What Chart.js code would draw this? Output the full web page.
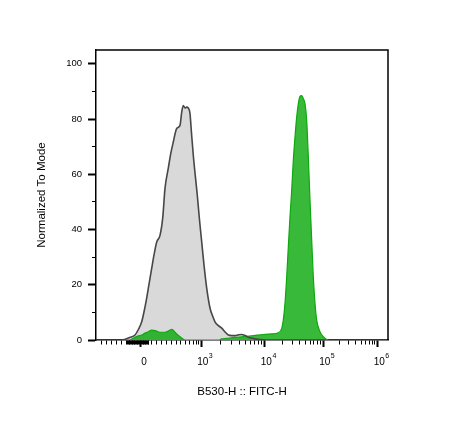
<!DOCTYPE html>
<html>
<head>
<meta charset="utf-8">
<title>B530-H :: FITC-H</title>
<script src="https://cdn.jsdelivr.net/npm/chart.js@4/dist/chart.umd.min.js"></script>
<style>
  body { margin: 0; background: #fff; }
  canvas { display: block; }
</style>
</head>
<body>
<canvas id="histChart" width="452" height="438"></canvas>
<script>
'use strict';

// Data (x in display channels 0-1000, y normalized to mode)
let grayX = [89, 100, 115, 133.6, 145, 156.5, 165, 173.6, 182, 190.8, 199, 207.9, 219.2, 228.4, 236.3, 247.6, 256, 264.7, 276.4, 287.7, 293.5, 299, 304.8, 310, 316.1, 321.9, 327, 333.2, 340, 346.9, 354, 362, 370, 379.1, 390.4, 400, 407.5, 418, 430.5, 442, 453.1, 465, 476, 488, 499, 512, 527.4, 545, 561.6, 578.8];
let grayY = [0, 0.3, 0.9, 1.8, 3.8, 6.6, 10.5, 15.2, 20.5, 26, 31, 35.5, 37.9, 44.1, 54.9, 62.2, 67.5, 71.7, 76.6, 77.7, 82.5, 84.9, 84, 84.3, 84, 82, 75, 66.9, 59.5, 52.4, 44, 35.5, 27, 18.8, 11.6, 8.5, 6.6, 5.3, 4.3, 2.9, 1.8, 1.6, 1.6, 1.9, 2, 1.5, 0.8, 0.4, 0.2, 0];

let greenX = [0, 116, 130, 145, 156.5, 168, 179.1, 190.8, 205, 219.2, 230, 242.1, 252, 259.2, 265, 270.5, 280, 287.7, 296, 304.8, 322, 420, 430, 447.6, 470, 504.5, 540, 573, 600, 624.3, 636, 641.4, 647.3, 653.1, 658.6, 664.4, 670.2, 675.7, 681.5, 687.3, 692.8, 698.6, 704.5, 709.9, 715.8, 721.6, 727.1, 732.9, 738.7, 744.2, 750, 755.8, 767.1, 778.4, 790, 800, 1000];
let greenY = [0, 0, 0.8, 1.5, 1.8, 2.5, 3, 3.6, 3.3, 2.8, 2.8, 3, 3.5, 3.9, 3.5, 2.8, 1.8, 1.2, 0.5, 0, 0, 0, 0.4, 0.6, 0.9, 1.2, 1.6, 2, 2.2, 2.6, 4.2, 7.2, 13.4, 22.9, 33.7, 44.6, 54.2, 65, 73.5, 80.7, 85.5, 88.2, 88.5, 87.4, 85.5, 79.5, 66.3, 50.6, 36.1, 22.9, 13.3, 7.2, 3, 1.2, 0.2, 0, 0];

// Tick labels
let xMajorTicks = [150.7, 359.6, 577.1, 777.4, 964];
let xLabelBase = ['0', '10', '10', '10', '10'];
let xLabelExp = ['', '3', '4', '5', '6'];
let xLinearMinor = [19.5, 36.6, 53.8, 70.9, 88, 190.8, 207.9, 225, 242.1, 259.2, 274, 287.7, 304.8, 321.9, 333.9, 344.2, 351];
let yMajorTicks = [0, 20, 40, 60, 80, 100];
let yMinorTicks = [10, 30, 50, 70, 90];

let fontFamily = '"Liberation Sans", Arial, sans-serif';

function toPoints(xs, ys) {
  return xs.map((x, i) => ({ x: x, y: ys[i] }));
}

// minor ticks: linear region, dense cluster round zero, log decades
function buildXTicks() {
  let list = xMajorTicks.map(v => ({ value: v, big: true }));
  xLinearMinor.forEach(v => list.push({ value: v }));
  for (let v = 106; v <= 182; v += 2.5) {
    if (Math.abs(v - xMajorTicks[0]) > 1.5) list.push({ value: v });
  }
  for (let i = 1; i < xMajorTicks.length - 1; i++) {
    let span = xMajorTicks[i + 1] - xMajorTicks[i];
    for (let k = 2; k <= 9; k++) {
      list.push({ value: xMajorTicks[i] + Math.log10(k) * span });
    }
  }
  return list.sort((a, b) => a.value - b.value);
}

function buildYTicks() {
  let list = yMajorTicks.map(v => ({ value: v, big: true }));
  yMinorTicks.forEach(v => list.push({ value: v }));
  return list.sort((a, b) => a.value - b.value);
}

function isBig(ctx) {
  return ctx.tick && ctx.tick.big;
}

// top and right side of the frame
let frameBox = {
  id: 'frameBox',
  afterDraw(chart) {
    let a = chart.chartArea;
    let c = chart.ctx;
    c.save();
    c.strokeStyle = '#000';
    c.lineWidth = 1.5;
    c.beginPath();
    c.moveTo(a.left, a.top);
    c.lineTo(a.right, a.top);
    c.lineTo(a.right, a.bottom);
    c.stroke();
    c.restore();
  }
};

// decade labels with raised exponents, placed by the x scale
let powerLabels = {
  id: 'powerLabels',
  afterDraw(chart) {
    let scale = chart.scales.x;
    let c = chart.ctx;
    let y = scale.top + 22;
    c.save();
    c.fillStyle = '#000';
    c.textBaseline = 'middle';
    c.textAlign = 'left';
    xMajorTicks.forEach((v, i) => {
      let px = scale.getPixelForValue(v) + 4;
      c.font = '10px ' + fontFamily;
      let w1 = c.measureText(xLabelBase[i]).width;
      c.font = '7px ' + fontFamily;
      let w2 = xLabelExp[i] ? c.measureText(xLabelExp[i]).width + 0.5 : 0;
      let start = px - (w1 + w2) / 2;
      c.font = '10px ' + fontFamily;
      c.fillText(xLabelBase[i], start, y);
      if (xLabelExp[i]) {
        c.font = '7px ' + fontFamily;
        c.fillText(xLabelExp[i], start + w1 + 0.5, y - 6);
      }
    });
    c.restore();
  }
};

let ctx = document.getElementById('histChart');
// eslint-disable-next-line no-undef
let histChart = new Chart(ctx, {
  type: 'line',
  data: {
    datasets: [{
      label: 'unstained outline',
      data: toPoints(grayX, grayY),
      borderColor: '#474747',
      borderWidth: 1.6,
      fill: false,
      pointRadius: 0,
      cubicInterpolationMode: 'monotone'
    }, {
      label: 'FITC',
      data: toPoints(greenX, greenY),
      borderColor: '#0da80d',
      borderWidth: 1.2,
      backgroundColor: 'rgba(8,168,8,0.8)',
      fill: 'origin',
      pointRadius: 0,
      cubicInterpolationMode: 'monotone'
    }, {
      label: 'unstained',
      data: toPoints(grayX, grayY),
      borderWidth: 0,
      borderColor: 'rgba(0,0,0,0)',
      backgroundColor: '#d9d9d9',
      fill: 'origin',
      pointRadius: 0,
      cubicInterpolationMode: 'monotone'
    }]
  },
  options: {
    responsive: false,
    devicePixelRatio: 1,
    animation: false,
    layout: { padding: { top: 50, right: 64, left: 0, bottom: 0 } },
    plugins: {
      legend: { display: false },
      tooltip: { enabled: false }
    },
    scales: {
      x: {
        type: 'linear',
        min: 0,
        max: 1000,
        afterBuildTicks: function (scale) { scale.ticks = buildXTicks(); },
        afterFit: function (scale) { scale.height = 98; },
        border: { display: true, color: '#000', width: 1.5 },
        grid: {
          drawOnChartArea: false,
          tickLength: 7,
          tickColor: '#000',
          tickWidth: ctx => isBig(ctx) ? 2 : 1,
          tickBorderDash: ctx => isBig(ctx) ? [] : [4, 20]
        },
        ticks: {
          autoSkip: false,
          maxRotation: 0,
          callback: () => ''
        },
        title: {
          display: true,
          text: 'B530-H :: FITC-H',
          color: '#000',
          font: { family: fontFamily, size: 11.5 },
          padding: { top: 0, bottom: 39 }
        }
      },
      y: {
        type: 'linear',
        min: 0,
        max: 105,
        afterBuildTicks: function (scale) { scale.ticks = buildYTicks(); },
        afterFit: function (scale) { scale.width = 96; },
        border: { display: true, color: '#000', width: 1.5 },
        grid: {
          drawOnChartArea: false,
          tickLength: 8,
          tickColor: '#000',
          tickWidth: ctx => isBig(ctx) ? 2 : 1,
          tickBorderDash: ctx => isBig(ctx) ? [] : [4, 4],
          tickBorderDashOffset: ctx => isBig(ctx) ? 0 : 4
        },
        ticks: {
          autoSkip: false,
          padding: 6,
          color: '#000',
          font: { family: fontFamily, size: 9.5 },
          callback: function (value) {
            return yMajorTicks.includes(value) ? String(value) : '';
          }
        },
        title: {
          display: true,
          text: 'Normalized To Mode',
          color: '#000',
          font: { family: fontFamily, size: 11.5 },
          padding: { top: 35, bottom: 0 }
        }
      }
    }
  },
  plugins: [frameBox, powerLabels]
});
</script>
</body>
</html>
